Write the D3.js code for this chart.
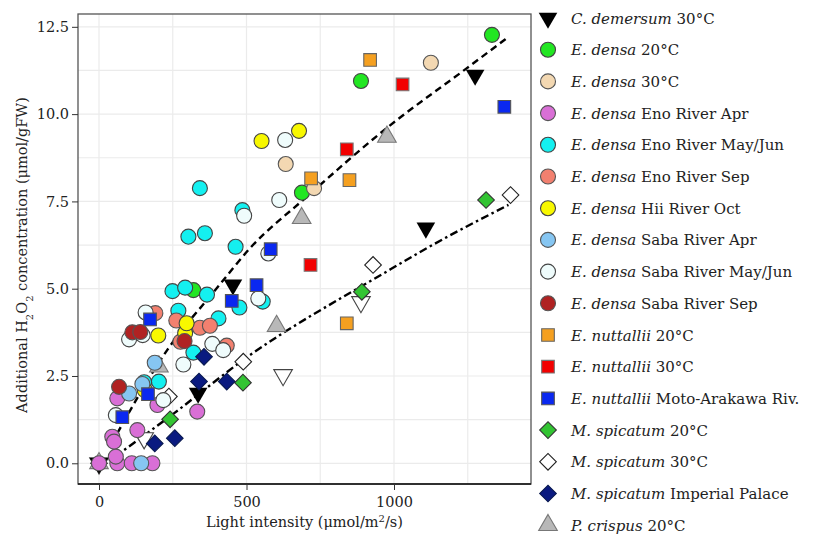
<!DOCTYPE html>
<html><head><meta charset="utf-8">
<script src="https://cdn.jsdelivr.net/npm/d3@7"></script>
<style>body{margin:0;background:#fff}svg{display:block}text{font-family:"DejaVu Serif",serif;fill:#222}</style>
</head><body><svg id="c" width="814" height="537"></svg>
<script>
// ---- data (light intensity, additional H2O2) ----
const seriesNames = ["C. demersum 20°C","C. demersum 30°C","E. densa 20°C","E. densa 30°C","E. densa Eno River Apr","E. densa Eno River May/Jun","E. densa Eno River Sep","E. densa Hii River Oct","E. densa Saba River Apr","E. densa Saba River May/Jun","E. densa Saba River Sep","E. nuttallii 20°C","E. nuttallii 30°C","E. nuttallii Moto-Arakawa Riv.","M. spicatum 20°C","M. spicatum 30°C","M. spicatum Imperial Palace","P. crispus 20°C"];
const cDemersum20 = [[0,0],[153,0.72],[624,2.53],[888,4.62]];
const cDemersum30 = [[0,0],[336,2.01],[454,5.11],[1108,6.74],[1275,11.12]];
const eDensa20 = [[320,4.96],[688,7.75],[888,10.95],[1332,12.27]];
const eDensa30 = [[633,8.57],[729,7.88],[1125,11.47]];
const enoApr = [[0,0],[62,0],[111,0],[181,0],[57,0.19],[45,0.76],[51,0.62],[130,0.95],[62,1.86],[198,1.67],[333,1.48]];
const enoMayJun = [[342,7.88],[303,6.49],[359,6.59],[463,6.2],[486,7.25],[249,4.93],[292,5.03],[366,4.83],[476,4.46],[405,4.15],[269,4.37],[555,4.63],[203,2.34],[320,3.17],[153,2.32]];
const enoSep = [[191,4.3],[262,4.09],[276,3.48],[342,3.88],[376,3.94],[433,3.37]];
const hiiOct = [[155,2.1],[201,3.66],[292,3.73],[297,4.01],[551,9.23],[678,9.52]];
const sabaApr = [[102,2.0],[143,0],[147,2.27],[189,2.88]];
const sabaMayJun = [[57,1.38],[102,3.55],[148,3.67],[158,4.32],[218,1.81],[286,2.83],[384,3.42],[421,3.24],[492,7.09],[540,4.72],[574,6.01],[611,7.54],[631,9.26]];
const sabaSep = [[68,2.19],[113,3.75],[140,3.76],[290,3.5]];
const nuttallii20 = [[719,8.16],[849,8.11],[919,11.55],[840,4.01]];
const nuttallii30 = [[717,5.68],[840,8.99],[1029,10.85]];
const motoArakawa = [[79,1.32],[166,1.98],[173,4.12],[450,4.65],[534,5.1],[582,6.13],[1374,10.21]];
const spicatum20 = [[241,1.26],[488,2.31],[891,4.91],[1312,7.54]];
const spicatum30 = [[0,0],[237,1.91],[489,2.91],[929,5.68],[1395,7.68]];
const imperialPalace = [[189,0.57],[257,0.72],[339,2.34],[356,3.05],[433,2.34]];
const crispus20 = [[0,0],[203,2.77],[602,3.93],[687,7.02],[976,9.35]];
// fitted curves
const fitDashed = [[43,0.57],[231,3.24],[399,5.01],[512,6.16],[704,7.63],[975,9.6],[1246,11.31],[1385,12.19]];
const fitDashDot = [[54,0.19],[254,1.43],[489,2.96],[975,5.49],[1111,6.16],[1388,7.4]];
const xTicks = [0,500,1000];
const yTicks = [0,2.5,5,7.5,10,12.5];

// ---- styles ----
const seriesData = [cDemersum20,cDemersum30,eDensa20,eDensa30,enoApr,enoMayJun,enoSep,hiiOct,sabaApr,sabaMayJun,sabaSep,nuttallii20,nuttallii30,motoArakawa,spicatum20,spicatum30,imperialPalace,crispus20];
const styles = [
 {shape:"tdown",fill:"#fff",stroke:"#444",legend:false},
 {shape:"tdown",fill:"#000",stroke:"none"},
 {shape:"circle",fill:"#22e622",stroke:"#444"},
 {shape:"circle",fill:"#f3d8b2",stroke:"#555"},
 {shape:"circle",fill:"#d96fd6",stroke:"#555"},
 {shape:"circle",fill:"#14f0f0",stroke:"#444"},
 {shape:"circle",fill:"#f2806f",stroke:"#555"},
 {shape:"circle",fill:"#f8f800",stroke:"#444"},
 {shape:"circle",fill:"#86c6f2",stroke:"#555"},
 {shape:"circle",fill:"#effcfc",stroke:"#444"},
 {shape:"circle",fill:"#b02222",stroke:"#555"},
 {shape:"square",fill:"#f5a020",stroke:"#666"},
 {shape:"square",fill:"#f20000",stroke:"#777"},
 {shape:"square",fill:"#0a28f0",stroke:"#555"},
 {shape:"diamond",fill:"#33c433",stroke:"#333"},
 {shape:"diamond",fill:"#fff",stroke:"#222"},
 {shape:"diamond",fill:"#0a1a80",stroke:"#0a1a50"},
 {shape:"tup",fill:"#b8b8b8",stroke:"#777"}
];
const drawOrder = [0,15,17,1,2,3,4,5,6,7,8,9,10,11,12,13,14,16];

const L=78,R=531,T=14,B=484;
const x = d3.scaleLinear().domain([-71.2,1464.4]).range([L,R]);
const y = d3.scaleLinear().domain([-0.593,12.867]).range([B,T]);
const svg = d3.select("#c");

// grid
const g = svg.append("g");
const xGrid = d3.range(0,1500,250), yGrid = d3.range(0,13,1.25);
g.selectAll(".gx").data(xGrid).enter().append("line").attr("x1",d=>x(d)).attr("x2",d=>x(d)).attr("y1",T).attr("y2",B).attr("stroke","#ebebeb").attr("stroke-width",1.2);
g.selectAll(".gy").data(yGrid).enter().append("line").attr("y1",d=>y(d)).attr("y2",d=>y(d)).attr("x1",L).attr("x2",R).attr("stroke","#ebebeb").attr("stroke-width",1.2);

function symPath(shape){
  if(shape==="circle") return d3.symbol(d3.symbolCircle,177)();
  if(shape==="square") return d3.symbol(d3.symbolSquare,160)();
  if(shape==="diamond") return d3.symbol(d3.symbolSquare,138)();
  return d3.symbol(d3.symbolTriangle,150)();
}
function symTransform(shape,px,py){
  if(shape==="diamond") return `translate(${px},${py}) rotate(45)`;
  if(shape==="tdown") return `translate(${px},${py}) rotate(180)`;
  return `translate(${px},${py})`;
}

// fits
const line = d3.line().x(d=>x(d[0])).y(d=>y(d[1])).curve(d3.curveMonotoneX);
svg.append("path").attr("d",line(fitDashed)).attr("fill","none").attr("stroke","#000").attr("stroke-width",2.4).attr("stroke-dasharray","7,4.5");
svg.append("path").attr("d",line(fitDashDot)).attr("fill","none").attr("stroke","#000").attr("stroke-width",2.4).attr("stroke-dasharray","8,3.5,2.5,3.5");

// points
drawOrder.forEach(i=>{
  const st=styles[i];
  svg.append("g").selectAll("path").data(seriesData[i]).enter().append("path")
    .attr("d",symPath(st.shape)).attr("transform",d=>symTransform(st.shape,x(d[0]),y(d[1])))
    .attr("fill",st.fill).attr("stroke",st.stroke).attr("stroke-width",1.1);
});

// frame
svg.append("rect").attr("x",L).attr("y",T).attr("width",R-L).attr("height",B-T).attr("fill","none").attr("stroke","#555").attr("stroke-width",1.3);
svg.append("line").attr("x1",L).attr("x2",R).attr("y1",B).attr("y2",B).attr("stroke","#111").attr("stroke-width",1.5);

// axes
const xa = svg.append("g").attr("transform",`translate(0,${B})`).call(d3.axisBottom(x).tickValues(xTicks).tickSize(6).tickFormat(d3.format("d")));
const ya = svg.append("g").attr("transform",`translate(${L},0)`).call(d3.axisLeft(y).tickValues(yTicks).tickSize(6).tickFormat(d3.format(".1f")));
[xa,ya].forEach(a=>{a.select(".domain").remove();a.selectAll("line").attr("stroke","#333");a.selectAll("text").style("font-family","DejaVu Serif").style("font-size","14.5px").attr("fill","#222");});
xa.selectAll("text").attr("dy","0.95em");

// axis titles
const xt = svg.append("text").attr("x",(L+R)/2).attr("y",527).attr("text-anchor","middle").style("font-size","14.5px");
xt.append("tspan").text("Light intensity (μmol/m");
xt.append("tspan").attr("baseline-shift","super").style("font-size","10px").text("2");
xt.append("tspan").text("/s)");
const yt = svg.append("text").attr("transform",`translate(27,${(T+B)/2+6}) rotate(-90)`).attr("text-anchor","middle").style("font-size","14.5px");
yt.append("tspan").text("Additional H");
yt.append("tspan").attr("baseline-shift","sub").style("font-size","10px").text("2");
yt.append("tspan").text("O");
yt.append("tspan").attr("baseline-shift","sub").style("font-size","10px").text("2");
yt.append("tspan").text(" concentration (μmol/gFW)");

// legend
const lg = svg.append("g");
let row=0;
seriesNames.forEach((name,i)=>{
  const st=styles[i]; if(st.legend===false) return;
  const cy = 18 + row*31.7; row++;
  lg.append("path").attr("d",symPath(st.shape)).attr("transform",symTransform(st.shape,548,cy))
    .attr("fill",st.fill).attr("stroke",st.stroke).attr("stroke-width",1.1);
  const parts = name.split(" ");
  const genus = parts.slice(0,2).join(" "), rest = parts.slice(2).join(" ");
  const t = lg.append("text").attr("x",571).attr("y",cy+5.5).style("font-size","15px");
  t.append("tspan").style("font-style","italic").text(genus);
  t.append("tspan").text(" "+rest);
});
</script></body></html>
